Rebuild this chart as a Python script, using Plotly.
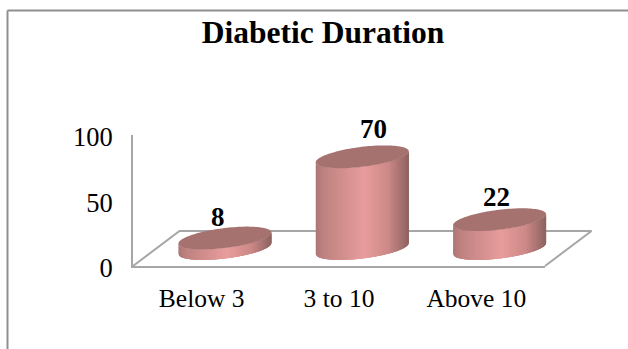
import numpy as np
import plotly.graph_objects as go

# Chart content
TITLE = "Diabetic Duration"
categories = ["Below 3", "3 to 10", "Above 10"]
values = [8, 70, 22]
y_ticks = [0, 50, 100]

# Canvas and plotting-box geometry, in pixels
W, H = 628, 349
LEFT, RIGHT, TOP, BOTTOM = 133, 545, 135, 266
PX_PER_CAT = (RIGHT - LEFT) / 3
PX_PER_VAL = (BOTTOM - TOP) / 100

# Oblique projection of the floor depth
DEPTH_X, DEPTH_Y = 46.5, 35.0
CYL_A, CYL_B, CYL_SHEAR = 46.5, 10.0, 5.5

SERIF = "Liberation Serif"
AXIS_GREY = "#a6a6a6"
TOP_COLOR = "#a5726f"
SHADE_STOPS = [0.0, 0.08, 0.52, 0.78, 1.0]
SHADE_RGB = [(172, 118, 116), (190, 130, 128), (232, 157, 156), (204, 137, 135), (140, 98, 96)]
STRIPS = 80

# Label offsets from the cylinder's top centre, in pixels
LABEL_NUDGE = [(-7, 21), (11, 28), (-3, 23)]


def shade(u):
    r, g, b = (np.interp(u, SHADE_STOPS, [c[k] for c in SHADE_RGB]) for k in range(3))
    return f"rgb({r:.0f},{g:.0f},{b:.0f})"


fig = go.Figure()

# Invisible trace that activates the box axes carrying the tick labels
fig.add_trace(go.Scatter(x=[0, 1, 2], y=values, mode="markers", marker_opacity=0,
                         hoverinfo="skip", showlegend=False))

# A second, full-canvas subplot holds the projected marks on the same value scale
x2_range = [-0.5 - LEFT / PX_PER_CAT, -0.5 + (W - LEFT) / PX_PER_CAT]
y2_range = [(BOTTOM - H) / PX_PER_VAL, BOTTOM / PX_PER_VAL]
dc = DEPTH_X / PX_PER_CAT
dv = DEPTH_Y / PX_PER_VAL


def overlay(**kw):
    fig.add_trace(go.Scatter(xaxis="x2", yaxis="y2", hoverinfo="skip", showlegend=False, **kw))


# Floor outline, from the front corners to the back edge
overlay(x=[-0.5, -0.5 + dc, 2.5 + dc, 2.5], y=[0, dv, dv, 0], mode="lines",
        line=dict(color=AXIS_GREY, width=2))

a = CYL_A / PX_PER_CAT
b = CYL_B / PX_PER_VAL
s = CYL_SHEAR / PX_PER_VAL

for i, v in enumerate(values):
    cx = i + dc / 2
    base = dv / 2

    # Side wall as vertical strips painted left to right; each one runs under the
    # next so that no seams appear between them
    u_edges = np.linspace(0, 1, STRIPS + 1)
    x_edges = np.linspace(-1, 1, STRIPS + 1)
    for k in range(STRIPS):
        right = min(k + 3, STRIPS)
        cos_t = np.linspace(x_edges[k], x_edges[right], 6)
        sin_t = np.sqrt(np.clip(1 - cos_t ** 2, 0, 1))
        xs = cx + a * cos_t
        front = s * cos_t - b * sin_t
        u = (u_edges[k] + u_edges[k + 1]) / 2
        overlay(x=np.r_[xs, xs[::-1]], y=np.r_[base + front, (base + v + front)[::-1]],
                mode="none", fill="toself", fillcolor=shade(u))

    # Top face
    t = np.linspace(0, 2 * np.pi, 120)
    overlay(x=cx + a * np.cos(t), y=base + v + s * np.cos(t) + b * np.sin(t),
            mode="none", fill="toself", fillcolor=TOP_COLOR)

    # Value label above the cylinder
    fig.add_annotation(xref="x2", yref="y2", x=cx, y=base + v, text=f"<b>{v}</b>", showarrow=False,
                       xshift=LABEL_NUDGE[i][0], yshift=LABEL_NUDGE[i][1],
                       font=dict(family=SERIF, size=27, color="black"))

# Outer frame: only the top and left edges are visible
for x0, y0, x1, y1 in [(7.5, 10.5, W, 10.5), (7.5, 10.5, 7.5, H)]:
    fig.add_shape(type="line", xref="paper", yref="paper", x0=x0 / W, x1=x1 / W,
                  y0=1 - y0 / H, y1=1 - y1 / H, line=dict(color="#8f8f8f", width=2))

fig.update_layout(
    width=W, height=H, margin=dict(l=0, r=0, t=0, b=0),
    paper_bgcolor="white", plot_bgcolor="rgba(0,0,0,0)", showlegend=False,
    title=dict(text=f"<b>{TITLE}</b>", x=323 / W, xanchor="center", xref="paper",
               y=1 - 32 / H, yanchor="middle", yref="paper", automargin=False,
               font=dict(family=SERIF, size=31.5, color="black")),
    xaxis=dict(domain=[LEFT / W, RIGHT / W], range=[-0.5, 2.5], tickvals=[0, 1, 2],
               ticktext=categories, showgrid=False, zeroline=False, showline=True, automargin=False,
               linecolor=AXIS_GREY, linewidth=2, ticks="", ticklabelstandoff=8,
               tickfont=dict(family=SERIF, size=25.5, color="black")),
    yaxis=dict(domain=[1 - BOTTOM / H, 1 - TOP / H], range=[0, 100], tickvals=y_ticks,
               showgrid=False, zeroline=False, showline=True, automargin=False,
               linecolor=AXIS_GREY, linewidth=2, ticks="", ticklabelstandoff=13,
               ticklabelshift=2,
               tickfont=dict(family=SERIF, size=26.5, color="black")),
    xaxis2=dict(domain=[0, 1], range=x2_range, anchor="y2", visible=False, automargin=False),
    yaxis2=dict(domain=[0, 1], range=y2_range, anchor="x2", visible=False, automargin=False),
)

fig.write_html("out.html", config=dict(displayModeBar=False))
